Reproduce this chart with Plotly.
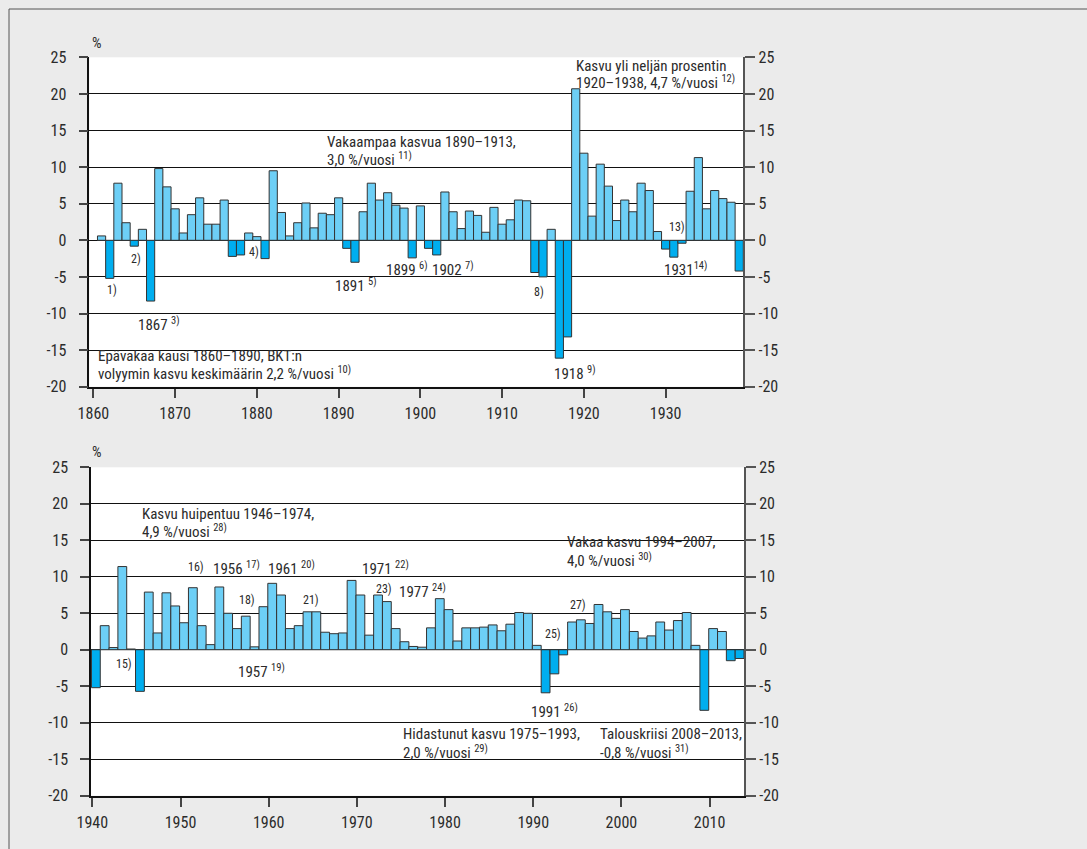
import plotly.graph_objects as go

W, H = 1087, 849

# ---------------- data ----------------
years_top = list(range(1861, 1940))
growth_top = [
    0.6, -5.2, 7.8, 2.4, -0.8, 1.5, -8.3, 9.8, 7.3, 4.3,      # 1861-1870
    1.0, 3.5, 5.8, 2.2, 2.2, 5.5, -2.2, -2.0, 1.0, 0.5,       # 1871-1880
    -2.5, 9.5, 3.8, 0.6, 2.4, 5.1, 1.7, 3.7, 3.5, 5.8,        # 1881-1890
    -1.1, -3.0, 3.9, 7.8, 5.5, 6.5, 4.8, 4.4, -2.4, 4.7,      # 1891-1900
    -1.1, -2.0, 6.6, 3.9, 1.6, 4.0, 3.4, 1.1, 4.5, 2.2,       # 1901-1910
    2.8, 5.5, 5.4, -4.4, -5.0, 1.5, -16.1, -13.2, 20.7, 11.9, # 1911-1920
    3.3, 10.4, 7.4, 2.7, 5.5, 3.9, 7.8, 6.8, 1.2, -1.2,       # 1921-1930
    -2.3, -0.4, 6.7, 11.3, 4.3, 6.8, 5.7, 5.2, -4.2,          # 1931-1939
]

years_bottom = list(range(1940, 2014))
growth_bottom = [
    -5.2, 3.3, 0.3, 11.4, 0.1, -5.7, 7.9, 2.3, 7.8, 6.0,      # 1940-1949
    3.7, 8.5, 3.3, 0.7, 8.6, 5.0, 2.9, 4.6, 0.4, 5.9,         # 1950-1959
    9.1, 7.5, 2.9, 3.3, 5.2, 5.2, 2.4, 2.2, 2.3, 9.5,         # 1960-1969
    7.5, 2.0, 7.5, 6.6, 2.9, 1.1, 0.45, 0.35, 3.0, 7.0,       # 1970-1979
    5.5, 1.2, 3.0, 3.0, 3.1, 3.4, 2.6, 3.5, 5.1, 5.0,         # 1980-1989
    0.6, -5.9, -3.3, -0.7, 3.8, 4.1, 3.6, 6.2, 5.2, 4.3,      # 1990-1999
    5.5, 2.5, 1.6, 1.9, 3.8, 2.7, 4.0, 5.1, 0.6, -8.3,        # 2000-2009
    2.9, 2.5, -1.5, -1.2,                                     # 2010-2013
]

x_ticks_top = [1860, 1870, 1880, 1890, 1900, 1910, 1920, 1930]
x_ticks_bottom = [1940, 1950, 1960, 1970, 1980, 1990, 2000, 2010]
y_ticks = [-20, -15, -10, -5, 0, 5, 10, 15, 20, 25]
y_tick_labels = ["-20", "-15", "-10", "-5", "0", "5", "10", "15", "20", "25"]

# ---------------- style ----------------
FONT = ("Roboto Condensed, Liberation Sans Narrow, DejaVu Sans Condensed, "
        "Arial Narrow, Liberation Sans, sans-serif")
TXT = "#2b2b2b"
POS = "#6dcff6"
NEG = "#00aeef"
OUTLINE = "#333333"
BG = "#ebebeb"
TICK_SIZE = 16
NOTE_SIZE = 15
SMALL_SIZE = 12


def colors(vals):
    return [POS if v >= 0 else NEG for v in vals]


fig = go.Figure()
fig.add_trace(go.Bar(x=years_top, y=growth_top, width=1,
                     marker=dict(color=colors(growth_top), line=dict(color=OUTLINE, width=1)),
                     xaxis="x", yaxis="y", hoverinfo="x+y"))
fig.add_trace(go.Scatter(x=years_top, y=growth_top, mode="markers", marker=dict(opacity=0),
                         xaxis="x", yaxis="y2", hoverinfo="skip"))
fig.add_trace(go.Bar(x=years_bottom, y=growth_bottom, width=1, offset=-0.1,
                     marker=dict(color=colors(growth_bottom), line=dict(color=OUTLINE, width=1)),
                     xaxis="x2", yaxis="y3", hoverinfo="x+y"))
fig.add_trace(go.Scatter(x=years_bottom, y=growth_bottom, mode="markers", marker=dict(opacity=0),
                         xaxis="x2", yaxis="y4", hoverinfo="skip"))


def xax(domain, rng, ticks, anchor):
    return dict(domain=domain, range=rng, tickvals=ticks, ticks="outside", ticklen=9,
                tickwidth=1.5, tickcolor="#444", showline=True, linecolor="#111", linewidth=2,
                showgrid=False, zeroline=False, anchor=anchor, automargin=False,
                ticklabelstandoff=2,
                tickfont=dict(family=FONT, size=TICK_SIZE, color=TXT))


def yax(domain, anchor):
    return dict(domain=domain, range=[-20, 25], tickvals=y_ticks, ticktext=y_tick_labels,
                ticks="outside", ticklen=9, tickwidth=1.5, tickcolor="#444",
                showline=True, linecolor="#111", linewidth=1.5, automargin=False,
                showgrid=True, gridcolor="#111", gridwidth=1, zeroline=False, anchor=anchor,
                ticklabelstandoff=9,
                tickfont=dict(family=FONT, size=TICK_SIZE, color=TXT))


def yax_right(over, anchor):
    return dict(overlaying=over, side="right", range=[-20, 25], tickvals=y_ticks,
                ticktext=y_tick_labels, ticks="outside", ticklen=10, tickwidth=1.5,
                tickcolor="#555", showline=True, linecolor="#555", linewidth=2,
                showgrid=False, zeroline=False, anchor=anchor, automargin=False,
                tickfont=dict(family=FONT, size=TICK_SIZE, color=TXT))


top_dom_y = [1 - 386.7 / H, 1 - 57.3 / H]
bot_dom_y = [1 - 795.7 / H, 1 - 467.3 / H]

fig.update_layout(
    template="none",
    width=W, height=H, autosize=False, margin=dict(l=0, r=0, t=0, b=0, pad=0),
    paper_bgcolor=BG, plot_bgcolor="white", showlegend=False,
    xaxis=xax([89.3 / W, 743.3 / W], [1859.5, 1939.5], x_ticks_top, "y"),
    yaxis=yax(top_dom_y, "x"),
    yaxis2=yax_right("y", "x"),
    xaxis2=xax([91 / W, 744 / W], [1939.85, 2013.9], x_ticks_bottom, "y3"),
    yaxis3=yax(bot_dom_y, "x2"),
    yaxis4=yax_right("y3", "x2"),
    font=dict(family=FONT, color=TXT),
)

# outer frame lines (top and left)
fig.add_shape(type="line", xref="paper", yref="paper", x0=9 / W, x1=9 / W, y0=1 - 9 / H, y1=0,
              line=dict(color="#555", width=1))
fig.add_shape(type="line", xref="paper", yref="paper", x0=9 / W, x1=1, y0=1 - 9 / H, y1=1 - 9 / H,
              line=dict(color="#555", width=1))


def ann(text, x, y, size=NOTE_SIZE, xanchor="left"):
    fig.add_annotation(text=text, x=x / W, y=1 - y / H, xref="paper", yref="paper",
                       showarrow=False, xanchor=xanchor, yanchor="middle", borderpad=0,
                       font=dict(family=FONT, size=size, color=TXT))


# % labels
ann("%", 91, 42.5, 15)
ann("%", 91, 452, 15)

# ---- top chart notes ----
ann("Kasvu yli neljän prosentin", 575, 66.2)
ann("1920–1938, 4,7 %/vuosi <sup>12)</sup>", 575, 82)
ann("Vakaampaa kasvua 1890–1913,", 325.7, 142)
ann("3,0 %/vuosi <sup>11)</sup>", 325.7, 158.5)
ann("Epävakaa kausi 1860–1890, BKT:n", 97.3, 356.2)
ann("volyymin kasvu keskimäärin 2,2 %/vuosi <sup>10)</sup>", 97.3, 372.5)
ann("1)", 106, 290, SMALL_SIZE)
ann("2)", 129.5, 259, SMALL_SIZE)
ann("1867 <sup>3)</sup>", 136.5, 324)
ann("4)", 247.5, 251.5, SMALL_SIZE)
ann("1891 <sup>5)</sup>", 334, 285.5)
ann("1899 <sup>6)</sup>", 385, 269)
ann("1902 <sup>7)</sup>", 431, 268.5)
ann("8)", 532.5, 292, SMALL_SIZE)
ann("1918 <sup>9)</sup>", 553, 373)
ann("13)", 667.5, 227, SMALL_SIZE)
ann("1931<sup>14)</sup>", 663, 269)

# ---- bottom chart notes ----
ann("Kasvu huipentuu 1946–1974,", 140.7, 513.5)
ann("4,9 %/vuosi <sup>28)</sup>", 140.7, 530.5)
ann("15)", 115, 663.5, SMALL_SIZE)
ann("16)", 186.5, 567, SMALL_SIZE)
ann("1956 <sup>17)</sup>", 211.7, 568)
ann("1961 <sup>20)</sup>", 266.7, 568)
ann("1971 <sup>22)</sup>", 360.7, 568)
ann("18)", 237.5, 600, SMALL_SIZE)
ann("21)", 302, 600, SMALL_SIZE)
ann("23)", 374.5, 589, SMALL_SIZE)
ann("1957 <sup>19)</sup>", 237, 671)
ann("1977 <sup>24)</sup>", 398, 591)
ann("25)", 543.5, 633.5, SMALL_SIZE)
ann("27)", 568.5, 604.5, SMALL_SIZE)
ann("Vakaa kasvu 1994–2007,", 565.7, 541.5)
ann("4,0 %/vuosi <sup>30)</sup>", 565.7, 559.5)
ann("1991 <sup>26)</sup>", 529.7, 711)
ann("Hidastunut kasvu 1975–1993,", 402.3, 733.5)
ann("2,0 %/vuosi <sup>29)</sup>", 402.3, 751.5)
ann("Talouskriisi 2008–2013,", 599, 733.5)
ann("-0,8 %/vuosi <sup>31)</sup>", 599, 751.5)

fig.write_html(
    "out.html",
    config={"displayModeBar": False},
    post_script="document.body.style.margin='0';document.body.style.background='%s';" % BG,
)
